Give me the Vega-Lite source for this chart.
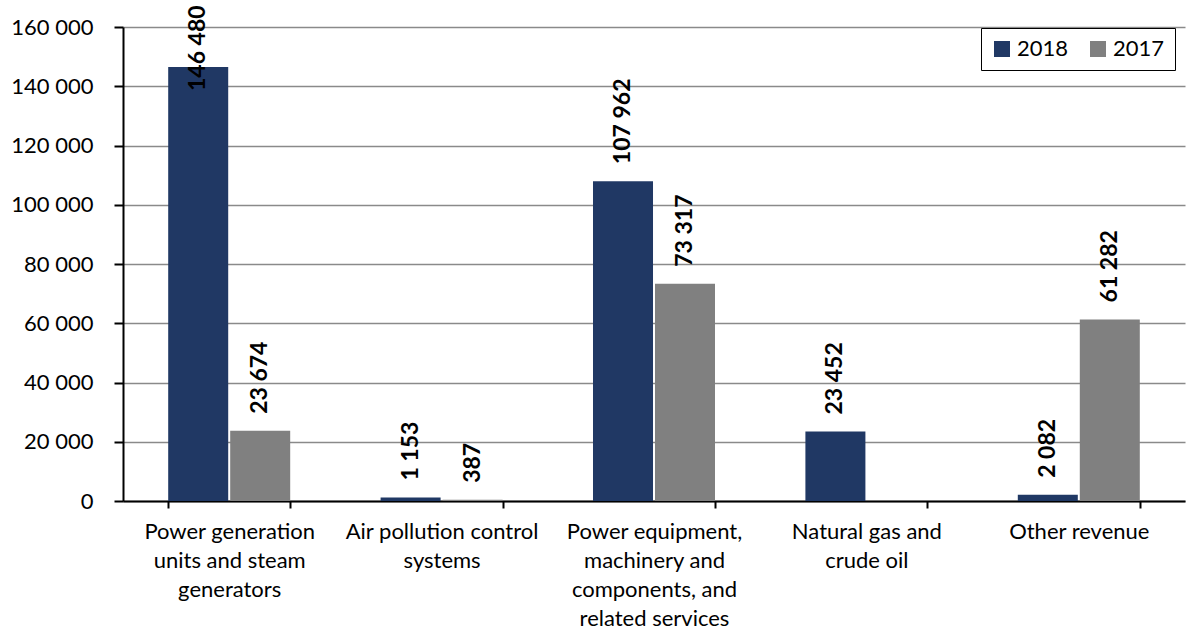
{
  "$schema": "https://vega.github.io/schema/vega-lite/v6.json",
  "width": 1062,
  "height": 474,
  "autosize": {"type": "none"},
  "padding": {"left": 123, "top": 27, "right": 3, "bottom": 129},
  "background": "white",
  "config": {
    "locale": {"number": {"decimal": ".", "thousands": " ", "grouping": [3], "currency": ["", ""]}},
    "font": "Lato",
    "view": {"stroke": null},
    "axis": {"labelFont": "Lato", "labelColor": "#000000", "titleFont": "Lato"},
    "legend": {"labelFont": "Lato"}
  },
  "data": {
    "values": [
      {"category": "Power generation|units and steam|generators", "year": "2018", "value": 146480},
      {"category": "Power generation|units and steam|generators", "year": "2017", "value": 23674},
      {"category": "Air pollution control|systems", "year": "2018", "value": 1153},
      {"category": "Air pollution control|systems", "year": "2017", "value": 387},
      {"category": "Power equipment,|machinery and|components, and|related services", "year": "2018", "value": 107962},
      {"category": "Power equipment,|machinery and|components, and|related services", "year": "2017", "value": 73317},
      {"category": "Natural gas and|crude oil", "year": "2018", "value": 23452},
      {"category": "Other revenue", "year": "2018", "value": 2082},
      {"category": "Other revenue", "year": "2017", "value": 61282}
    ]
  },
  "encoding": {
    "x": {
      "field": "category", "type": "nominal", "sort": null,
      "scale": {"paddingInner": 0.4256, "paddingOuter": 0.2128},
      "axis": {
        "title": null, "labelAngle": 0, "labelFontSize": 22, "labelLineHeight": 29.3,
        "labelExpr": "split(datum.label, '|')", "labelPadding": 13, "labelBaseline": "top",
        "tickBand": "extent", "tickSize": 7, "tickColor": "#000000", "tickWidth": 2,
        "domainColor": "#000000", "domainWidth": 2, "labelLimit": 300
      }
    },
    "xOffset": {
      "field": "year", "type": "nominal", "sort": ["2018", "2017"],
      "scale": {"paddingInner": 0.032, "paddingOuter": 0}
    },
    "y": {
      "field": "value", "type": "quantitative",
      "scale": {"domain": [0, 160000], "nice": false},
      "axis": {
        "title": null, "values": [0, 20000, 40000, 60000, 80000, 100000, 120000, 140000, 160000],
        "format": ",d", "labelFontSize": 22, "tickSize": 9, "labelPadding": 21,
        "tickColor": "#000000", "tickWidth": 2, "domainColor": "#000000", "domainWidth": 2,
        "gridColor": "#8a8a8a", "gridWidth": 1.5
      }
    }
  },
  "layer": [
    {
      "mark": {"type": "bar"},
      "encoding": {
        "color": {
          "field": "year", "type": "nominal",
          "scale": {"domain": ["2018", "2017"], "range": ["#203864", "#808080"]},
          "legend": {
            "title": null, "orient": "none", "direction": "horizontal",
            "legendX": 858, "legendY": 1,
            "labelFontSize": 22, "labelColor": "#000000",
            "symbolType": "square", "symbolSize": 256, "symbolStrokeWidth": 0,
            "strokeColor": "#000000", "padding": 10, "columnPadding": 18,
            "fillColor": "#ffffff"
          }
        }
      }
    },
    {
      "transform": [{"filter": "datum.value <= 140000"}],
      "mark": {"type": "text", "angle": -90, "align": "left", "baseline": "middle", "dx": 17, "fontSize": 23, "fontWeight": "bold", "color": "#000000"},
      "encoding": {"text": {"field": "value", "type": "quantitative", "format": ",d"}}
    },
    {
      "transform": [{"filter": "datum.value > 140000"}],
      "mark": {"type": "text", "angle": -90, "align": "left", "baseline": "middle", "dx": -24, "fontSize": 23, "fontWeight": "bold", "color": "#000000"},
      "encoding": {"text": {"field": "value", "type": "quantitative", "format": ",d"}}
    }
  ]
}
